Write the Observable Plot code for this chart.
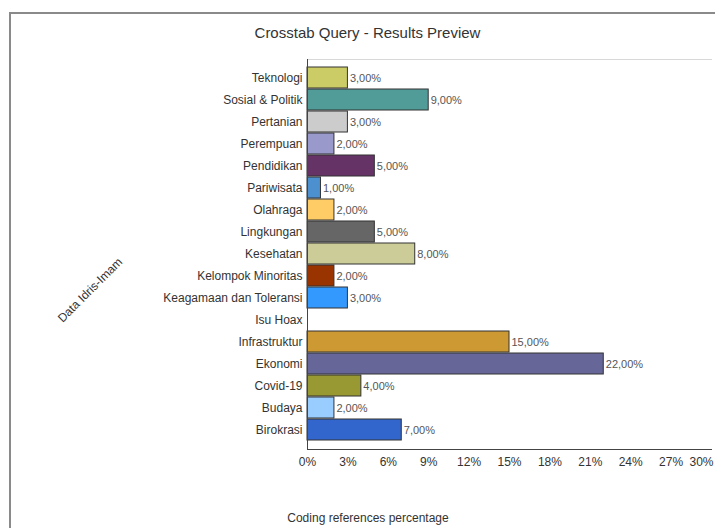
<!DOCTYPE html>
<html>
<head>
<meta charset="utf-8">
<script src="https://cdn.jsdelivr.net/npm/d3@7"></script>
<script src="https://cdn.jsdelivr.net/npm/@observablehq/plot@0.6"></script>
<style>
  html, body { margin: 0; padding: 0; background: #fff; }
  #wrap { position: relative; width: 715px; height: 528px; overflow: hidden; font-family: "Liberation Sans", Arial, sans-serif; }
  #border { position: absolute; left: 9px; top: 12px; right: -10px; bottom: -10px; border-top: 2px solid #8a8a8a; border-left: 2px solid #8a8a8a; }
  #chart { position: absolute; left: 0; top: 0; }
  .title { position: absolute; left: 0; width: 735px; top: 24px; text-align: center; font-size: 15px; color: #333; }
  .xlabel { position: absolute; left: 0; width: 736px; top: 511px; text-align: center; font-size: 12px; color: #333; }
  .ylabel { position: absolute; left: 90px; top: 290px; font-size: 12px; color: #333; transform: translate(-50%, -50%) rotate(-45deg); white-space: nowrap; }
</style>
</head>
<body>
<div id="wrap">
  <div id="border"></div>
  <div id="chart"></div>
  <div class="title">Crosstab Query - Results Preview</div>
  <div class="ylabel">Data Idris-Imam</div>
  <div class="xlabel">Coding references percentage</div>
</div>
<script>
const categories = ["Teknologi", "Sosial & Politik", "Pertanian", "Perempuan", "Pendidikan", "Pariwisata", "Olahraga", "Lingkungan", "Kesehatan", "Kelompok Minoritas", "Keagamaan dan Toleransi", "Isu Hoax", "Infrastruktur", "Ekonomi", "Covid-19", "Budaya", "Birokrasi"];
const values = [3, 9, 3, 2, 5, 1, 2, 5, 8, 2, 3, 0, 15, 22, 4, 2, 7];
const colors = ["#cccc66", "#519b98", "#cccccc", "#9999cc", "#663366", "#4d90d0", "#ffcc66", "#666666", "#cccc99", "#993300", "#3399ff", "#ffffff", "#cc9933", "#666699", "#999933", "#99ccff", "#3366cc"];
const xTicks = [0, 3, 6, 9, 12, 15, 18, 21, 24, 27, 30];

const data = categories.map((c, i) => ({cat: c, value: values[i], color: colors[i]}));
const fmt = v => v.toFixed(2).replace(".", ",") + "%";
const lastTick = xTicks[xTicks.length - 1];

const chart = Plot.plot({
  width: 715,
  height: 528,
  marginTop: 59,
  marginBottom: 79,
  marginLeft: 307,
  marginRight: 4,
  style: {fontFamily: "'Liberation Sans', Arial, sans-serif", fontSize: "12px", color: "#333", background: "transparent"},
  x: {domain: [0, 30], tickFormat: d => d + "%", label: null},
  y: {domain: categories, paddingInner: 0.04, paddingOuter: 0.02, tickSize: 0, tickPadding: 5, label: null},
  marks: [
    Plot.frame({anchor: "top", stroke: "#d8d8d8"}),
    Plot.barX(data.filter(d => d.value > 0), {y: "cat", x: "value", fill: d => d.color, stroke: "#333", strokeWidth: 1}),
    Plot.text(data.filter(d => d.value > 0), {y: "cat", x: "value", text: d => fmt(d.value), dx: 2, textAnchor: "start", fill: "#555", fontSize: 11}),
    Plot.ruleX([0], {stroke: "#444"}),
    Plot.frame({anchor: "bottom", stroke: "#444"}),
    Plot.axisX(xTicks.slice(0, -1), {tickSize: 0, tickPadding: 8, tickFormat: d => d + "%", label: null}),
    Plot.axisX([lastTick], {tickSize: 0, tickPadding: 8, tickFormat: d => d + "%", label: null, dx: -10})
  ]
});
document.getElementById("chart").appendChild(chart);
</script>
</body>
</html>
